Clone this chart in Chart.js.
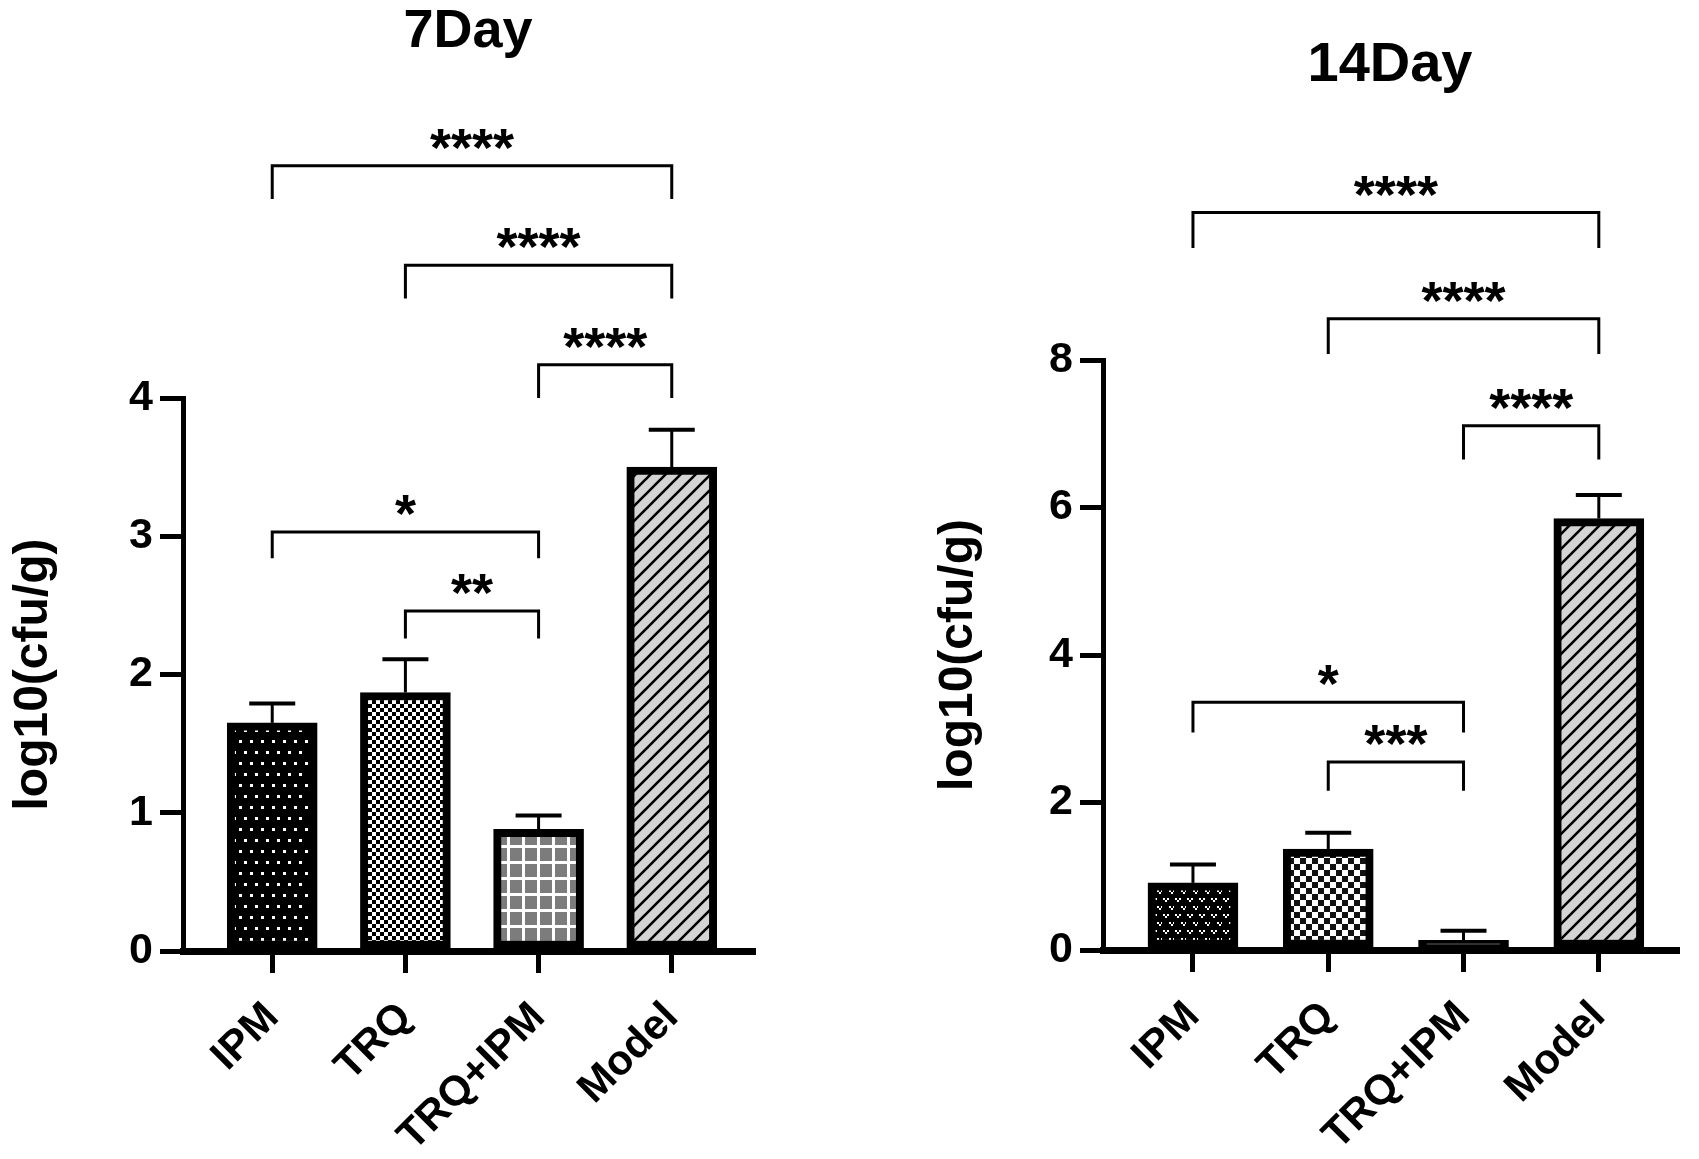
<!DOCTYPE html>
<html>
<head>
<meta charset="utf-8">
<script src="https://cdn.jsdelivr.net/npm/chart.js@4.4.1/dist/chart.umd.min.js"></script>
<style>
  html, body { margin: 0; padding: 0; background: #fff; }
  #wrap { position: relative; width: 1699px; height: 1159px; }
  canvas { position: absolute; top: 0; }
  #c7 { left: 0; }
  #c14 { left: 850px; }
</style>
</head>
<body>
<div id="wrap">
  <canvas id="c7" width="850" height="1159"></canvas>
  <canvas id="c14" width="849" height="1159"></canvas>
</div>
<script>
const groups = ['IPM', 'TRQ', 'TRQ+IPM', 'Model'];

// 7 day
const day7Mean = [1.65, 1.87, 0.88, 3.50];
const day7Sd = [0.14, 0.24, 0.10, 0.27];
// [from, to, bracket top, bracket foot, label]
const day7Pairs = [
    [0, 3, 5.68, 5.44, '****'],
    [1, 3, 4.96, 4.72, '****'],
    [2, 3, 4.24, 4.00, '****'],
    [0, 2, 3.03, 2.84, '*'],
    [1, 2, 2.46, 2.26, '**']
];

// 14 day
const day14Mean = [0.91, 1.37, 0.13, 5.85];
const day14Sd = [0.25, 0.22, 0.13, 0.32];
const day14Pairs = [
    [0, 3, 10.0, 9.52, '****'],
    [1, 3, 8.56, 8.08, '****'],
    [2, 3, 7.11, 6.65, '****'],
    [0, 2, 3.36, 2.95, '*'],
    [1, 2, 2.55, 2.16, '***']
];

const FONT = '"Liberation Sans", Arial, sans-serif';
Chart.defaults.font.family = FONT;
Chart.defaults.color = '#000';

// fill patterns
function tile(w, h, paint) {
    const c = document.createElement('canvas');
    c.width = w; c.height = h;
    paint(c.getContext('2d'), w, h);
    return c;
}
const tiles = {
    dots: tile(11, 22, (g) => {
        g.fillStyle = '#000'; g.fillRect(0, 0, 11, 22);
        g.fillStyle = '#fff'; g.fillRect(2, 3, 3, 3); g.fillRect(8, 14, 3, 3);
    }),
    vees: tile(12, 16, (g) => {
        g.fillStyle = '#000'; g.fillRect(0, 0, 12, 16);
        g.fillStyle = '#fff';
        [[1, 2], [7, 10]].forEach(([x, y]) => {
            g.fillRect(x, y, 2, 2); g.fillRect(x + 4, y, 2, 2); g.fillRect(x + 2, y + 2, 2, 2);
        });
    }),
    checkSmall: tile(8, 8, (g) => {
        g.fillStyle = '#fff'; g.fillRect(0, 0, 8, 8);
        g.fillStyle = '#000'; g.fillRect(0, 0, 4, 4); g.fillRect(4, 4, 4, 4);
    }),
    checkBig: tile(12, 12, (g) => {
        g.fillStyle = '#fff'; g.fillRect(0, 0, 12, 12);
        g.fillStyle = '#111'; g.fillRect(0, 0, 6, 6); g.fillRect(6, 6, 6, 6);
    }),
    grid: tile(15, 16, (g) => {
        g.fillStyle = '#fff'; g.fillRect(0, 0, 15, 16);
        g.fillStyle = '#7c7c7c'; g.fillRect(0, 0, 12, 13);
    }),
    hatch: tile(15, 15, (g, s) => {
        g.fillStyle = '#d4d4d4'; g.fillRect(0, 0, s, s);
        g.strokeStyle = '#000'; g.lineWidth = 2.6;
        g.beginPath();
        g.moveTo(-2, s + 2); g.lineTo(s + 2, -2);
        g.moveTo(-2, 2); g.lineTo(2, -2);
        g.moveTo(s - 2, s + 2); g.lineTo(s + 2, s - 2);
        g.stroke();
    })
};

function pat(canvasId, name) {
    return document.getElementById(canvasId).getContext('2d').createPattern(tiles[name], 'repeat');
}

// error bars (upward SD) and significance brackets
function sigPlugin(sd, pairs) {
    return {
        id: 'sig',
        afterDatasetsDraw(chart) {
            const { ctx, scales: { x, y } } = chart;
            const meta = chart.getDatasetMeta(0);
            const data = chart.data.datasets[0].data;
            ctx.save();
            ctx.strokeStyle = '#000';
            ctx.fillStyle = '#000';
            meta.data.forEach((bar, i) => {
                const base = y.getPixelForValue(data[i].y);
                const top = y.getPixelForValue(data[i].y + sd[i]);
                ctx.lineWidth = 3;
                ctx.beginPath(); ctx.moveTo(bar.x, base); ctx.lineTo(bar.x, top); ctx.stroke();
                ctx.lineWidth = 4;
                ctx.beginPath(); ctx.moveTo(bar.x - 23, top); ctx.lineTo(bar.x + 23, top); ctx.stroke();
            });
            ctx.lineWidth = 3;
            ctx.font = 'bold 54px ' + FONT;
            ctx.textAlign = 'center';
            ctx.textBaseline = 'alphabetic';
            pairs.forEach(([a, b, hi, lo, label]) => {
                const x1 = x.getPixelForValue(a), x2 = x.getPixelForValue(b);
                const yh = y.getPixelForValue(hi), yl = y.getPixelForValue(lo);
                ctx.beginPath();
                ctx.moveTo(x1, yl); ctx.lineTo(x1, yh); ctx.lineTo(x2, yh); ctx.lineTo(x2, yl);
                ctx.stroke();
                ctx.fillText(label, (x1 + x2) / 2, yh);
            });
            ctx.restore();
        }
    };
}

function makeChart(id, cfg) {
    return new Chart(document.getElementById(id), {
        type: 'bar',
        data: {
            datasets: [{
                data: cfg.mean.map((v, i) => ({ x: i, y: v })),
                backgroundColor: cfg.fills.map(f => pat(id, f)),
                borderColor: '#000',
                borderWidth: 8,
                borderSkipped: false,
                barThickness: 90
            }]
        },
        options: {
            responsive: false,
            animation: false,
            devicePixelRatio: 1,
            layout: { padding: { left: 0, top: 0, right: cfg.padRight, bottom: 0 } },
            plugins: {
                legend: { display: false },
                tooltip: { enabled: false },
                title: {
                    display: true,
                    text: cfg.title,
                    fullSize: false,
                    color: '#000',
                    font: { size: cfg.titleSize, weight: 'bold', lineHeight: 1 },
                    padding: { top: cfg.titlePad[0], bottom: cfg.titlePad[1] }
                }
            },
            scales: {
                x: {
                    type: 'linear',
                    min: cfg.xRange[0],
                    max: cfg.xRange[1],
                    offset: false,
                    afterBuildTicks: (s) => { s.ticks = groups.map((g, i) => ({ value: i })); },
                    afterFit: (s) => { s.height = cfg.xHeight; },
                    grid: { display: true, offset: false, drawOnChartArea: false, drawTicks: true, tickLength: 22, lineWidth: 5, tickWidth: 5, color: '#000' },
                    border: { display: true, width: 7, color: '#000' },
                    ticks: {
                        autoSkip: false,
                        minRotation: 45,
                        maxRotation: 45,
                        padding: 20,
                        color: '#000',
                        font: { size: 42, weight: 'bold' },
                        callback: (v) => groups[v]
                    }
                },
                y: {
                    min: 0,
                    max: cfg.yMax,
                    afterFit: (s) => { s.width = cfg.yWidth; },
                    grid: { drawOnChartArea: false, drawTicks: true, tickLength: 23, lineWidth: 5, color: '#000' },
                    border: { display: true, width: 5, color: '#000' },
                    ticks: { stepSize: cfg.yStep, padding: 7, color: '#000', font: { size: 43, weight: 'bold' } },
                    title: {
                        display: true,
                        text: 'log10(cfu/g)',
                        color: '#000',
                        font: { size: 48, weight: 'bold', lineHeight: 1.2 },
                        padding: { top: cfg.yTitlePad, bottom: 0 }
                    }
                }
            }
        },
        plugins: [sigPlugin(cfg.sd, cfg.pairs)]
    });
}

makeChart('c7', {
    title: '7Day', titleSize: 54, titlePad: [5, 339],
    mean: day7Mean, sd: day7Sd, pairs: day7Pairs,
    fills: ['dots', 'checkSmall', 'grid', 'hatch'],
    xRange: [-0.67, 3.61], xHeight: 208, yWidth: 183, padRight: 97,
    yMax: 4, yStep: 1, yTitlePad: 5
});

makeChart('c14', {
    title: '14Day', titleSize: 56, titlePad: [38, 266],
    mean: day14Mean, sd: day14Sd, pairs: day14Pairs,
    fills: ['vees', 'checkBig', 'vees', 'hatch'],
    xRange: [-0.665, 3.578], xHeight: 209, yWidth: 253, padRight: 22,
    yMax: 8, yStep: 2, yTitlePad: 80
});
</script>
</body>
</html>
